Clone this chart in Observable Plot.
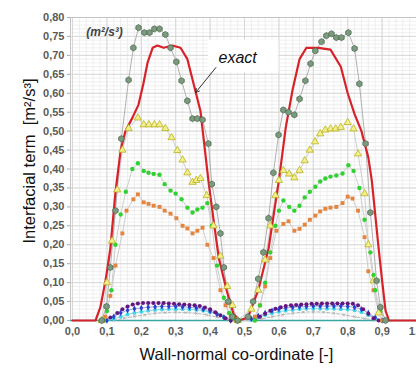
<!DOCTYPE html>
<html><head><meta charset="utf-8">
<script src="https://cdn.jsdelivr.net/npm/d3@7"></script>
<script src="https://cdn.jsdelivr.net/npm/@observablehq/plot@0.6"></script>
<style>
html,body{margin:0;padding:0;background:#fff;overflow:hidden;}
#chart{width:416px;height:369px;}
</style></head><body><div id="chart"></div>
<script>
// ---- data ----
const exactX = [0,0.067,0.081,0.096,0.11,0.125,0.14,0.154,0.174,0.192,0.206,0.218,0.233,0.247,0.265,0.29,0.314,0.334,0.352,0.372,0.385,0.395,0.405,0.425,0.448,0.468,0.485,0.51,0.54,0.57,0.6,0.62,0.64,0.66,0.68,0.715,0.75,0.78,0.8,0.82,0.84,0.86,0.87,0.88,0.89,0.9,0.91,0.92,1.0];
const exactY = [0,0,0.035,0.105,0.19,0.34,0.45,0.5,0.535,0.57,0.625,0.68,0.72,0.726,0.72,0.726,0.72,0.69,0.625,0.553,0.45,0.37,0.3,0.166,0.08,0.018,0,0.008,0.08,0.19,0.37,0.51,0.61,0.69,0.72,0.72,0.715,0.67,0.6,0.545,0.5,0.43,0.37,0.28,0.19,0.105,0.026,0,0];

const hexX = [0.085,0.099,0.11,0.125,0.142,0.163,0.177,0.192,0.209,0.224,0.238,0.253,0.27,0.285,0.302,0.317,0.334,0.349,0.363,0.378,0.395,0.405,0.418,0.43,0.44,0.453,0.465,0.48,0.51,0.525,0.54,0.555,0.57,0.584,0.599,0.613,0.628,0.645,0.66,0.677,0.692,0.706,0.724,0.738,0.753,0.767,0.782,0.802,0.82,0.834,0.852,0.866,0.884,0.895,0.91];
const hexY = [0,0.037,0.14,0.29,0.48,0.635,0.72,0.773,0.76,0.76,0.77,0.77,0.755,0.72,0.683,0.633,0.58,0.533,0.533,0.53,0.467,0.36,0.3,0.23,0.14,0.05,0.01,0,0.01,0.05,0.11,0.18,0.27,0.39,0.49,0.556,0.55,0.543,0.585,0.633,0.678,0.712,0.736,0.752,0.757,0.747,0.747,0.76,0.718,0.625,0.467,0.285,0.105,0.035,0];

const triX = [0.085,0.1,0.115,0.13,0.145,0.163,0.19,0.207,0.222,0.238,0.253,0.27,0.288,0.305,0.32,0.334,0.349,0.36,0.372,0.39,0.41,0.43,0.45,0.465,0.48,0.52,0.54,0.56,0.575,0.59,0.6,0.613,0.63,0.645,0.66,0.675,0.69,0.705,0.72,0.735,0.75,0.765,0.78,0.8,0.817,0.83,0.849,0.86,0.875,0.89];
const triY = [0,0.1,0.21,0.345,0.45,0.507,0.535,0.517,0.517,0.517,0.517,0.507,0.483,0.449,0.424,0.39,0.365,0.37,0.375,0.33,0.25,0.17,0.09,0.04,0,0.03,0.08,0.16,0.25,0.33,0.37,0.396,0.387,0.377,0.396,0.422,0.45,0.472,0.493,0.503,0.506,0.506,0.51,0.523,0.506,0.44,0.335,0.2,0.105,0.02];

const greenX = [0.09,0.1,0.113,0.125,0.14,0.155,0.174,0.19,0.207,0.221,0.236,0.253,0.268,0.285,0.3,0.317,0.334,0.349,0.363,0.378,0.392,0.405,0.42,0.44,0.455,0.47,0.485,0.53,0.545,0.56,0.575,0.59,0.6,0.613,0.63,0.645,0.66,0.675,0.69,0.706,0.72,0.735,0.75,0.767,0.785,0.802,0.817,0.834,0.849,0.866,0.875,0.88,0.895,0.91];
const greenY = [0,0.025,0.08,0.2,0.28,0.34,0.4,0.415,0.395,0.39,0.387,0.385,0.36,0.343,0.335,0.32,0.298,0.285,0.293,0.298,0.31,0.25,0.145,0.06,0.02,0.005,0,0,0.04,0.1,0.18,0.25,0.29,0.317,0.3,0.29,0.303,0.325,0.34,0.353,0.367,0.375,0.38,0.383,0.388,0.41,0.395,0.35,0.266,0.18,0.12,0.08,0.025,0];

const orangeX = [0.095,0.11,0.125,0.145,0.157,0.177,0.19,0.207,0.221,0.236,0.253,0.268,0.285,0.302,0.32,0.334,0.349,0.363,0.378,0.392,0.41,0.43,0.445,0.46,0.475,0.53,0.545,0.56,0.575,0.593,0.613,0.628,0.645,0.66,0.675,0.69,0.706,0.72,0.735,0.75,0.767,0.785,0.8,0.814,0.83,0.849,0.86,0.875,0.89,0.9];
const orangeY = [0.01,0.065,0.145,0.23,0.29,0.32,0.333,0.312,0.308,0.303,0.3,0.29,0.282,0.27,0.25,0.243,0.23,0.237,0.245,0.2,0.165,0.08,0.04,0.01,0,0.01,0.04,0.09,0.165,0.237,0.255,0.262,0.237,0.242,0.253,0.266,0.277,0.288,0.295,0.298,0.3,0.31,0.327,0.322,0.29,0.22,0.13,0.08,0.02,0];

const purpleX = [0.09,0.11,0.13,0.145,0.16,0.175,0.19,0.205,0.22,0.235,0.25,0.265,0.28,0.295,0.31,0.325,0.34,0.355,0.37,0.385,0.4,0.415,0.43,0.445,0.46,0.53,0.545,0.56,0.575,0.59,0.605,0.62,0.635,0.65,0.665,0.68,0.695,0.71,0.725,0.74,0.755,0.77,0.785,0.8,0.815,0.83,0.845,0.86,0.875,0.89];
const purpleY = [0,0.008,0.02,0.03,0.037,0.042,0.045,0.046,0.046,0.046,0.046,0.046,0.045,0.044,0.043,0.042,0.041,0.04,0.038,0.034,0.03,0.022,0.014,0.006,0,0.002,0.01,0.018,0.026,0.031,0.035,0.038,0.04,0.041,0.042,0.043,0.044,0.044,0.045,0.045,0.045,0.045,0.045,0.045,0.044,0.04,0.03,0.018,0.006,0];

const blueX = [0.1,0.12,0.14,0.16,0.18,0.2,0.22,0.24,0.26,0.28,0.3,0.32,0.34,0.36,0.38,0.4,0.42,0.44,0.46,0.52,0.54,0.56,0.58,0.6,0.62,0.64,0.66,0.68,0.7,0.72,0.74,0.76,0.78,0.8,0.82,0.84,0.86,0.88,0.9];
const blueY = [0,0.01,0.02,0.027,0.031,0.033,0.035,0.036,0.037,0.037,0.037,0.036,0.035,0.033,0.03,0.025,0.017,0.008,0,0.004,0.012,0.02,0.026,0.03,0.033,0.035,0.036,0.037,0.038,0.038,0.038,0.038,0.038,0.037,0.035,0.03,0.02,0.008,0];

const cyanX = [0.1,0.12,0.14,0.16,0.18,0.2,0.22,0.24,0.26,0.28,0.3,0.32,0.34,0.36,0.38,0.4,0.42,0.44,0.46,0.48,0.52,0.54,0.56,0.58,0.6,0.62,0.64,0.66,0.68,0.7,0.72,0.74,0.76,0.78,0.8,0.82,0.84,0.86,0.88,0.9];
const cyanY = [0,0.004,0.01,0.016,0.02,0.023,0.026,0.028,0.029,0.03,0.03,0.03,0.029,0.028,0.026,0.022,0.017,0.01,0.004,0,0.002,0.008,0.014,0.019,0.023,0.026,0.028,0.03,0.031,0.031,0.031,0.031,0.031,0.03,0.029,0.027,0.022,0.014,0.006,0];

const greyX = [0.12,0.15,0.18,0.21,0.24,0.27,0.3,0.33,0.36,0.39,0.42,0.45,0.48,0.55,0.58,0.61,0.64,0.67,0.7,0.73,0.76,0.79,0.82,0.85,0.88,0.9];
const greyY = [0,0.006,0.011,0.015,0.019,0.021,0.022,0.021,0.019,0.015,0.009,0.003,0,0.004,0.01,0.015,0.019,0.022,0.023,0.022,0.019,0.015,0.01,0.005,0.001,0];

const xTicks = [0,0.1,0.2,0.3,0.4,0.5,0.6,0.7,0.8,0.9,1.0];
const yTicks = [0,0.05,0.1,0.15,0.2,0.25,0.3,0.35,0.4,0.45,0.5,0.55,0.6,0.65,0.7,0.75,0.8];
const xLabel = "Wall-normal co-ordinate [-]";
const yLabel = "Interfacial term  [m²/s³]";
const unitNote = [{x: 0.093, y: 0.762, text: "(m²/s³)"}];
const exactNote = [{x: 0.48, y: 0.694, text: "exact"}];
const exactBox = [{x1: 0.395, x2: 0.6, y1: 0.654, y2: 0.74}];
const exactArrow = [{x1: 0.417, y1: 0.668, x2: 0.358, y2: 0.602}];

// ---- build ----
const pts = (xs, ys) => xs.map((x, i) => ({x, y: ys[i]}));
const fmt2 = d => d.toFixed(2).replace(".", ",");
const fmt1 = d => d.toFixed(1).replace(".", ",");
const xMinor = d3.range(0, 1.0001, 0.02);
const yMinor = d3.range(0, 0.8001, 0.01);
const font = "'Liberation Sans', Arial, sans-serif";

const series = [
  {d: pts(greyX, greyY), line: "#b0b0b0", dash: "3,2", sym: "times", fill: "none", stroke: "#aaa", r: 1.3},
  {d: pts(cyanX, cyanY), line: "#7fd8e6", sym: "circle", fill: "#3fd3e6", stroke: "none", r: 1.9},
  {d: pts(blueX, blueY), line: "#8fa0e0", sym: "diamond", fill: "#2a3fcf", stroke: "none", r: 1.9},
  {d: pts(purpleX, purpleY), line: "#b79ac8", sym: "circle", fill: "#63167f", stroke: "none", r: 2.0},
  {d: pts(orangeX, orangeY), line: "#c8c8c8", sym: "square", fill: "#e5843e", stroke: "none", r: 2.2},
  {d: pts(greenX, greenY), line: "#c8c8c8", sym: "circle", fill: "#31d131", stroke: "none", r: 2.2},
  {d: pts(triX, triY), line: "#c8c8c8", sym: "triangle", fill: "#f2ef8c", stroke: "#b9b21e", r: 2.7},
  {d: pts(hexX, hexY), line: "#a8a8a8", sym: "hexagon", fill: "#7c9a7e", stroke: "#4f6c53", r: 2.7}
];

const marks = [
  Plot.gridX(xMinor, {stroke: "#e8e8e8", strokeOpacity: 1, strokeWidth: 0.7}),
  Plot.gridY(yMinor, {stroke: "#e8e8e8", strokeOpacity: 1, strokeWidth: 0.7}),
  Plot.gridX(xTicks, {stroke: "#d2d2d2", strokeOpacity: 1, strokeWidth: 0.8}),
  Plot.gridY(yTicks, {stroke: "#d2d2d2", strokeOpacity: 1, strokeWidth: 0.8}),
  Plot.rect(exactBox, {x1: "x1", x2: "x2", y1: "y1", y2: "y2", fill: "white"}),
  Plot.frame({stroke: "#c4c4c4"}),
  Plot.axisY(yTicks, {tickFormat: fmt2, tickSize: 3, stroke: "#aaa", tickPadding: 3, fontSize: 11, fill: "#5a5a5a", fontWeight: "bold"}),
  Plot.axisX(xTicks, {tickFormat: fmt1, tickSize: 0, tickPadding: 7, fontSize: 11, fill: "#5a5a5a", fontWeight: "bold", label: null}),
  Plot.ruleY([0], {stroke: "#3aa6a0", strokeWidth: 1.6})
];
for (const s of series) {
  marks.push(Plot.line(s.d, {x: "x", y: "y", stroke: s.line, strokeWidth: 0.9, strokeDasharray: s.dash}));
}
marks.push(Plot.line(pts(exactX, exactY), {x: "x", y: "y", stroke: "#d8222a", strokeWidth: 2.2}));
for (const s of series) {
  marks.push(Plot.dot(s.d, {x: "x", y: "y", symbol: () => s.sym, fill: s.fill, stroke: s.stroke, strokeWidth: s.stroke === "none" ? 0 : 0.8, r: s.r}));
}
marks.push(
  Plot.arrow(exactArrow, {x1: "x1", y1: "y1", x2: "x2", y2: "y2", stroke: "#333", strokeWidth: 1, headLength: 6}),
  Plot.text(exactNote, {x: "x", y: "y", text: "text", fontSize: 16, fontStyle: "italic", fill: "#111"}),
  Plot.text(unitNote, {x: "x", y: "y", text: "text", fontSize: 12, fontStyle: "italic", fontWeight: "bold", fill: "#444"}),
  Plot.text([xLabel], {frameAnchor: "bottom", dy: 39, dx: -7, fontSize: 16.5, fill: "#111"}),
  Plot.text([yLabel], {frameAnchor: "left", textAnchor: "middle", rotate: -90, dx: -41, dy: -8, fontSize: 16.5, fill: "#111"})
);

const chart = Plot.plot({
  width: 416, height: 369,
  marginLeft: 70, marginRight: 0, marginTop: 17, marginBottom: 49,
  insetLeft: 2,
  style: {fontFamily: font, background: "white", overflow: "visible"},
  x: {domain: [0, 1], axis: null},
  y: {domain: [0, 0.8], axis: null},
  symbol: {type: "identity"},
  marks
});
document.getElementById("chart").appendChild(chart);
</script>
</body></html>
